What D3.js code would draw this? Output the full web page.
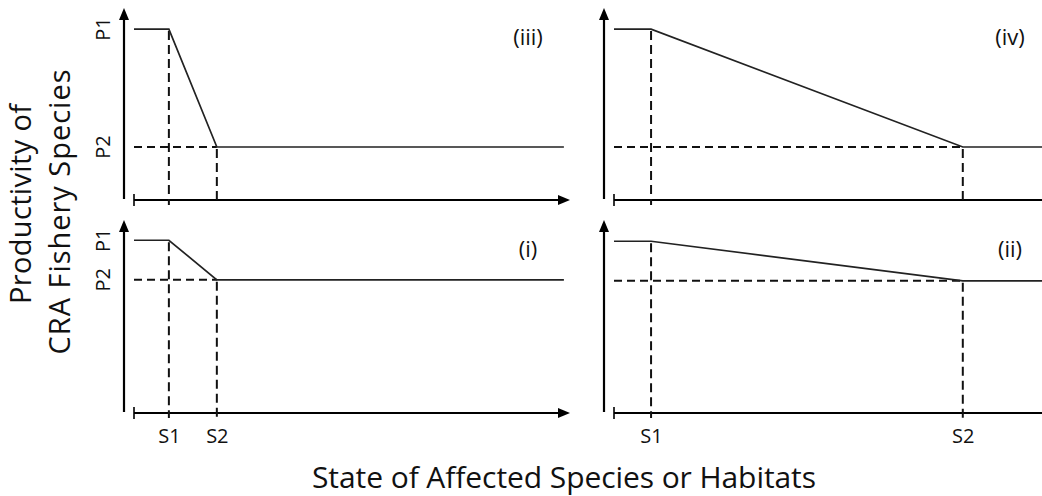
<!DOCTYPE html>
<html>
<head>
<meta charset="utf-8">
<script src="https://cdn.jsdelivr.net/npm/d3@7"></script>
<style>
  html, body { margin: 0; padding: 0; background: #fff; }
  svg { display: block; }
  text { font-family: "Open Sans", "Noto Sans", sans-serif; fill: #111; }
</style>
</head>
<body>
<svg id="chart" width="1042" height="496"></svg>
<script>
// ---- data ----
const panelLabels = ["(iii)", "(iv)", "(i)", "(ii)"];
const s1Values   = [8, 8.5, 8, 8.5];      // state at which decline begins
const s2Values   = [19, 80, 19, 80];      // state at which decline ends
const sEndValues = [98.6, 100, 98.6, 100];
const p1Values   = [89, 89, 89.5, 89];    // productivity before decline
const p2Values   = [27.6, 27.6, 69, 68.5];// productivity after decline
const xTickLabels = ["S1", "S2"];
const yTickLabels = ["P1", "P2"];
const xTitle = "State of Affected Species or Habitats";
const yTitleLines = ["Productivity of", "CRA Fishery Species"];

// ---- layout ----
const panels = [
  { x0: 134, x1: 570, yb: 200, yt: 8,   left: true,  bottom: false },
  { x0: 614, x1: 1050, yb: 200, yt: 8,  left: false, bottom: false },
  { x0: 134, x1: 570, yb: 413, yt: 220, left: true,  bottom: true },
  { x0: 614, x1: 1050, yb: 413, yt: 220,left: false, bottom: true }
];

const svg = d3.select("#chart");

panels.forEach((p, i) => {
  const x = d3.scaleLinear().domain([0, 100]).range([p.x0, p.x1]);
  const y = d3.scaleLinear().domain([0, 100]).range([p.yb, p.yt]);
  const g = svg.append("g");
  const yAxisX = p.x0 - 10;

  // y axis line + arrow
  g.append("line")
    .attr("x1", yAxisX).attr("x2", yAxisX)
    .attr("y1", y(100) + 6).attr("y2", y(0) - 1)
    .attr("stroke", "#000").attr("stroke-width", 2.2);
  g.append("path")
    .attr("d", `M${yAxisX},${y(100)} L${yAxisX - 5},${y(100) + 12} L${yAxisX + 5},${y(100) + 12} Z`)
    .attr("fill", "#000");

  // x axis line with start tick and arrow
  const axisEnd = p.left ? x(100) : 1046;
  g.append("line")
    .attr("x1", x(0)).attr("x2", axisEnd - (p.left ? 6 : 0))
    .attr("y1", y(0)).attr("y2", y(0))
    .attr("stroke", "#000").attr("stroke-width", 2.2);
  g.append("line")
    .attr("x1", x(0)).attr("x2", x(0))
    .attr("y1", y(0) - 6).attr("y2", y(0) + 6)
    .attr("stroke", "#000").attr("stroke-width", 1.6);
  if (p.left) {
    g.append("path")
      .attr("d", `M${x(100)},${y(0)} L${x(100) - 12},${y(0) - 5} L${x(100) - 12},${y(0) + 5} Z`)
      .attr("fill", "#000");
  }

  const s1 = s1Values[i], s2 = s2Values[i], p1 = p1Values[i], p2 = p2Values[i];

  // dashed guides
  const dash = "9,5";
  g.append("line")
    .attr("x1", x(s1)).attr("x2", x(s1))
    .attr("y1", y(p1) + 2).attr("y2", y(0) + 5)
    .attr("stroke", "#111").attr("stroke-width", 2).attr("stroke-dasharray", dash);
  g.append("line")
    .attr("x1", x(s2)).attr("x2", x(s2))
    .attr("y1", y(p2) + 2).attr("y2", y(0) + 5)
    .attr("stroke", "#111").attr("stroke-width", 2).attr("stroke-dasharray", dash);
  g.append("line")
    .attr("x1", x(0)).attr("x2", x(s2))
    .attr("y1", y(p2)).attr("y2", y(p2))
    .attr("stroke", "#111").attr("stroke-width", 2).attr("stroke-dasharray", "8,5");

  // response curve
  const pts = [[0, p1], [s1, p1], [s2, p2], [sEndValues[i], p2]];
  g.append("path")
    .datum(pts)
    .attr("d", d3.line().x(d => x(d[0])).y(d => y(d[1])))
    .attr("fill", "none").attr("stroke", "#222").attr("stroke-width", 1.7);

  // panel label
  g.append("text")
    .attr("x", x(100) - (p.left ? 42 : 40)).attr("y", y(100) + 37)
    .attr("text-anchor", "middle").attr("font-size", 22)
    .text(panelLabels[i]);

  // x tick labels
  if (p.bottom) {
    const ax = d3.axisBottom(x).tickValues([s1, s2])
      .tickFormat((d, k) => xTickLabels[k]).tickSize(0).tickPadding(0);
    const axg = g.append("g").attr("transform", `translate(0,${y(0)})`).call(ax);
    axg.select(".domain").remove();
    axg.selectAll("text")
      .attr("y", 30).attr("dy", 0)
      .attr("font-size", 20).attr("font-family", null).attr("fill", "#111");
  }

  // y tick labels (rotated)
  if (p.left) {
    [p1, p2].forEach((v, k) => {
      g.append("text")
        .attr("transform", `translate(110,${y(v)}) rotate(-90)`)
        .attr("text-anchor", "middle").attr("font-size", 20)
        .text(yTickLabels[k]);
    });
  }
});

// titles
svg.append("text")
  .attr("x", 312).attr("y", 488)
  .attr("font-size", 30)
  .attr("textLength", 504).attr("lengthAdjust", "spacing")
  .text(xTitle);

svg.append("text")
  .attr("transform", "translate(31,204) rotate(-90)")
  .attr("text-anchor", "middle").attr("font-size", 29)
  .attr("textLength", 200).attr("lengthAdjust", "spacing")
  .text(yTitleLines[0]);
svg.append("text")
  .attr("transform", "translate(70,212) rotate(-90)")
  .attr("text-anchor", "middle").attr("font-size", 29)
  .attr("textLength", 285).attr("lengthAdjust", "spacing")
  .text(yTitleLines[1]);
</script>
</body>
</html>
